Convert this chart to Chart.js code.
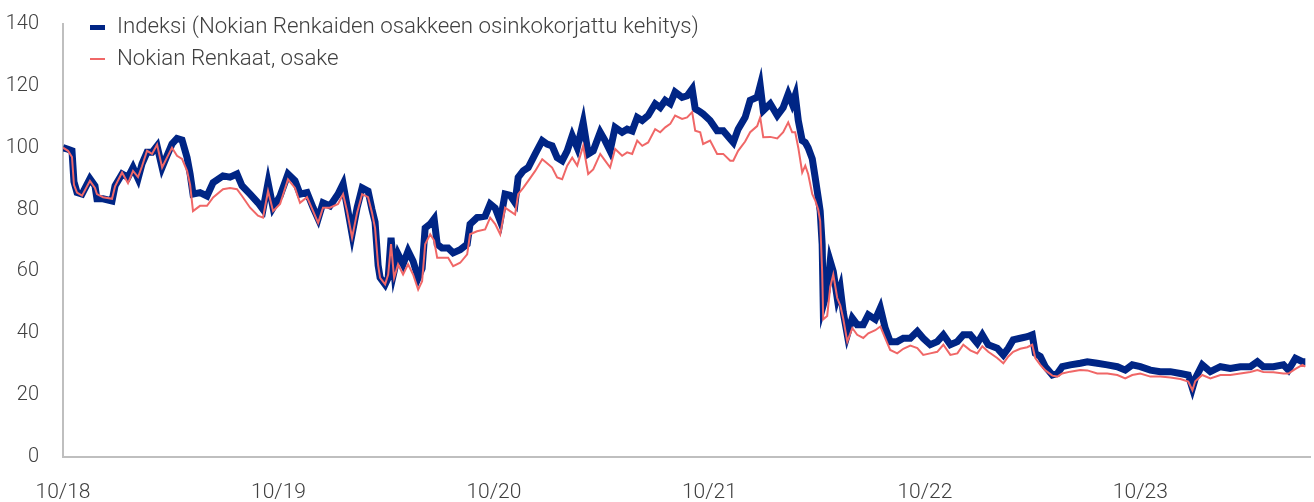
<!DOCTYPE html>
<html>
<head>
<meta charset="utf-8">
<script src="https://cdn.jsdelivr.net/npm/chart.js@4.4.1/dist/chart.umd.min.js"></script>
<style>
  body { margin: 0; background: #fff; }
  #wrap { position: relative; width: 1314px; height: 502px; }
  #legend {
    position: absolute; left: 90px; top: 12px;
    font-family: Roboto, sans-serif; font-weight: 300; font-size: 22.3px; color: #404040;
  }
  #legend div { height: 32px; line-height: 26px; white-space: nowrap; }
  #legend span.key { display: inline-block; width: 15px; vertical-align: middle; margin-right: 12px; }
</style>
</head>
<body>
<div id="wrap">
  <canvas id="myChart"></canvas>
  <div id="legend"></div>
</div>
<script>
// months since 10/2018
const months = [
  0, 0.28, 0.5, 0.61, 0.78, 1.06, 1.5, 1.78, 1.89, 2.23, 2.73, 2.9, 3.29, 3.62, 3.9, 4.18, 4.4, 4.68, 4.96, 5.24,
  5.52, 5.79, 6.07, 6.35, 6.63, 6.91, 7.08, 7.24, 7.63, 8.02, 8.36, 8.91, 9.3, 9.69, 9.97, 10.42, 10.86, 11.14, 11.42, 11.7,
  12.09, 12.53, 12.92, 13.2, 13.59, 13.93, 14.21, 14.48, 14.87, 15.32, 15.6, 15.82, 16.1, 16.38, 16.66, 16.99, 17.21, 17.38, 17.55, 17.66,
  17.94, 18.11, 18.27, 18.44, 18.66, 18.94, 19.22, 19.5, 19.78, 20, 20.17, 20.45, 20.67, 20.84, 21.11, 21.45, 21.73, 22.12, 22.51, 22.67,
  23.06, 23.51, 23.79, 24.07, 24.35, 24.62, 24.9, 25.18, 25.35, 25.63, 25.91, 26.3, 26.69, 26.96, 27.24, 27.52, 27.8, 28.08, 28.36, 28.64,
  28.97, 29.25, 29.53, 29.92, 30.19, 30.47, 30.75, 31.14, 31.42, 31.7, 31.98, 32.26, 32.59, 32.98, 33.26, 33.54, 33.82, 34.09, 34.48, 34.76,
  35.04, 35.21, 35.49, 35.65, 36.04, 36.43, 36.77, 37.16, 37.33, 37.6, 37.99, 38.27, 38.66, 38.83, 39, 39.39, 39.78, 40.11, 40.39, 40.61,
  40.78, 40.95, 41.17, 41.34, 41.5, 41.73, 41.89, 42.06, 42.17, 42.28, 42.34, 42.56, 42.73, 42.9, 43.12, 43.29, 43.45, 43.68, 43.96, 44.23,
  44.57, 44.85, 45.24, 45.52, 45.79, 46.07, 46.46, 46.8, 47.19, 47.58, 47.91, 48.3, 48.69, 49.03, 49.42, 49.81, 50.14, 50.53, 50.92, 51.2,
  51.53, 52.03, 52.37, 52.65, 52.92, 53.31, 53.7, 53.98, 54.15, 54.43, 54.71, 55.1, 55.38, 55.65, 56.1, 56.66, 57.05, 57.6, 58.16, 58.72,
  59.16, 59.55, 60, 60.56, 61.11, 61.67, 62.23, 62.67, 62.9, 63.06, 63.45, 63.9, 64.46, 65.01, 65.57, 66.13, 66.52, 66.85, 67.41, 67.97,
  68.25, 68.64, 69.03, 69.19
];

const indexValues = [
  100, 99.5, 99, 89, 85.5, 85, 90, 87.7, 83.5, 83.5, 82.8, 87.7, 91.5, 90.4, 93.6, 90, 94.8, 98.5, 98.5, 100.6,
  93.6, 97.4, 101.2, 103, 102.5, 96.8, 91.5, 85, 85.5, 84.4, 88.7, 90.9, 90.5, 91.5, 87.7, 85, 82.2, 80, 88.7, 80.6,
  84.4, 91.5, 89.3, 85, 85.5, 80.6, 77, 82.2, 81.2, 85, 88.3, 81.2, 72, 80.6, 87, 86, 80, 76, 62, 58,
  55.8, 57.9, 70.9, 60, 65.6, 62.3, 66.6, 63.3, 57.9, 61, 74, 75.3, 77, 68.8, 67.6, 67.6, 66, 67, 68.8, 75.3,
  77.4, 77.9, 81.8, 80.5, 76.3, 85, 84.6, 82.2, 90.4, 92.5, 93.6, 98, 102.3, 101.2, 100.6, 96.8, 95.8, 99, 103.9, 100,
  108.2, 98, 99, 105, 102.3, 99, 106.6, 105, 106, 105.4, 109.8, 108.8, 110.4, 114.2, 113, 115.3, 114.2, 118, 116.3, 116.8,
  119, 112.6, 111.6, 110.9, 108.8, 105.5, 105.5, 102.8, 101.7, 106, 109.8, 115.3, 116.3, 120.1, 112, 114.2, 110.4, 113, 117.4, 114.2,
  117, 108.8, 102.3, 101.7, 100, 96.4, 90.4, 83.9, 79.5, 68.8, 49, 53.6, 63.3, 60, 51.4, 54.6, 47, 39.5, 44.9, 42.8,
  42.8, 46, 44.5, 48.2, 41.7, 37.3, 37.3, 38.4, 38.4, 40.6, 38.4, 36.3, 37.3, 39.5, 36.3, 37.3, 39.5, 39.5, 36.8, 39.5,
  36.3, 35.2, 33, 35.2, 37.9, 38.4, 38.9, 39.5, 33.5, 32.5, 29.2, 26.5, 27, 29.2, 29.8, 30.3, 30.8, 30.3, 29.8, 29.2,
  28.1, 29.8, 29.2, 28.1, 27.6, 27.6, 27, 26.5, 22.2, 25.4, 29.8, 27.6, 29.2, 28.6, 29.2, 29.2, 30.8, 29.2, 29.2, 29.8,
  28.1, 31.9, 30.8, 30.8
];

const shareValues = [
  100, 99, 97, 88, 85.5, 84.5, 89.3, 87, 85, 84, 83.5, 87.5, 92, 88.5, 92.5, 90.5, 94, 99, 98, 101,
  93.6, 96.8, 100, 97.4, 96.4, 92.5, 88, 79.5, 81.2, 81.2, 83.9, 86.6, 87, 86.6, 84.4, 80.6, 78, 77.4, 86, 79.5,
  81.8, 89.8, 87, 82.2, 84, 79.5, 75.7, 80.6, 80.6, 81.8, 85, 79.5, 70.9, 79, 85, 84, 79, 74, 62, 57.9,
  55.8, 59, 68.8, 57.9, 62.3, 59, 62.3, 59, 54.1, 56.8, 68.8, 72, 70, 64.4, 64.4, 64.4, 61.7, 62.8, 65.5, 72,
  73, 73.6, 77.4, 75.3, 72, 80.6, 79.5, 78.4, 85, 87, 89.3, 92.5, 96.3, 95, 93.6, 90.4, 89.8, 94.2, 96.8, 94.2,
  100.6, 91.5, 93, 98, 95.8, 93.6, 99.6, 97.4, 98.5, 98, 102.3, 100.6, 101.7, 106, 105, 106.6, 107.7, 110.4, 109.3, 109.8,
  111.5, 105.5, 105, 101.2, 102.3, 98, 98, 95.8, 95.8, 99, 102, 105, 107, 109.8, 103.4, 103.5, 103, 105, 108.2, 105,
  105, 100, 92, 94.2, 91.5, 85, 83, 80, 76.3, 60, 44.5, 45.6, 55, 59, 51.4, 49, 44.9, 37.3, 41.7, 39.5,
  38.5, 40, 41, 42.2, 38.4, 34.6, 33.5, 35, 36, 35.2, 33, 33.5, 34, 36.3, 33, 33.5, 36.3, 34.5, 33.5, 35.8,
  34, 32, 30.3, 32.5, 34, 35, 35.5, 36.3, 32, 29.8, 28, 26.3, 26, 27, 27.6, 28.1, 28, 27, 27, 26.5,
  25.4, 26.5, 27, 26, 26, 25.7, 25.2, 24.4, 21.6, 24.5, 26.5, 25.4, 26.5, 26.5, 27, 27.5, 28.1, 27.5, 27.4, 27,
  27, 28.5, 29.8, 29.2
];

const xTickLabels = ['10/18', '10/19', '10/20', '10/21', '10/22', '10/23'];
const seriesNames = ['Indeksi (Nokian Renkaiden osakkeen osinkokorjattu kehitys)', 'Nokian Renkaat, osake'];

const blue = '#002585';
const red = '#f06767';

Chart.defaults.font.family = 'Roboto, sans-serif';
Chart.defaults.font.size = 20;
Chart.defaults.font.weight = 300;
Chart.defaults.color = '#404040';

const data = {
  datasets: [
    {
      label: seriesNames[1],
      data: months.map((m, i) => ({ x: m, y: shareValues[i] })),
      borderColor: red,
      borderWidth: 2,
      pointRadius: 0,
      tension: 0,
      order: 0
    },
    {
      label: seriesNames[0],
      data: months.map((m, i) => ({ x: m, y: indexValues[i] })),
      borderColor: blue,
      borderWidth: 7,
      pointRadius: 0,
      tension: 0,
      order: 1
    }
  ]
};

const config = {
  type: 'line',
  data: data,
  options: {
    responsive: true,
    maintainAspectRatio: false,
    animation: false,
    layout: { padding: { top: 24, right: 4, left: 0, bottom: 0 } },
    plugins: { legend: { display: false }, tooltip: { enabled: false } },
    scales: {
      x: {
        type: 'linear',
        min: 0,
        max: 69.45,
        grid: { display: false, drawTicks: false },
        border: { display: true, color: '#bfbfbf', width: 2 },
        afterBuildTicks: (scale) => {
          scale.ticks = xTickLabels.map((t, i) => ({ value: i * 12 }));
        },
        afterFit: (scale) => { scale.height = 45; },
        ticks: {
          padding: 23,
          font: { size: 21 },
          maxRotation: 0,
          autoSkip: false,
          callback: (v) => xTickLabels[v / 12]
        }
      },
      y: {
        min: 0,
        max: 140,
        grid: { display: false, drawTicks: false },
        border: { display: true, color: '#bfbfbf', width: 2 },
        afterFit: (scale) => {
          scale.width = 63;
          scale.paddingTop = 0;
          scale.paddingBottom = 0;
        },
        ticks: { stepSize: 20, padding: 24 }
      }
    }
  }
};

const chart = new Chart(document.getElementById('myChart'), config);

// legend
const legend = document.getElementById('legend');
[[seriesNames[0], blue, 5], [seriesNames[1], red, 2]].forEach(([name, col, w]) => {
  const row = document.createElement('div');
  row.innerHTML = '<span class="key" style="height:' + w + 'px;background:' + col + '"></span>' + name;
  legend.appendChild(row);
});
</script>
</body>
</html>
